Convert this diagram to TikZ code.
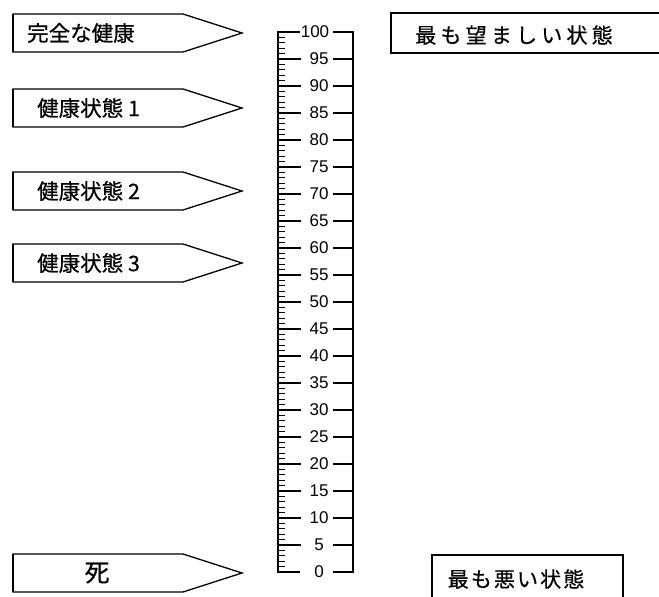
\documentclass[tikz,border=0pt]{standalone}
\usepackage{fontspec}
\newfontfamily\jp[FakeBold=0.6]{Noto Sans CJK JP}
\newfontfamily\jpwide[LetterSpace=20,FakeBold=0.6]{Noto Sans CJK JP}
\newfontfamily\jpmid[LetterSpace=10,FakeBold=0.6]{Noto Sans CJK JP}
\newfontfamily\numfont{Liberation Sans}
\begin{document}
\begin{tikzpicture}[x=1pt,y=-1pt,
  box/.style={draw, line width=1.3pt, line join=miter},
  heavyedge/.style={line width=2.6pt},
  scaleline/.style={line width=1.4pt},
  minortick/.style={line width=0.9pt},
  lab/.style={font=\numfont\fontsize{17}{17}\selectfont, inner sep=0pt},
  jtxtA/.style={font=\jp\fontsize{21.5}{21.5}\selectfont, inner sep=0pt, anchor=west},
  jtxtB/.style={font=\jp\fontsize{21.5}{21.5}\selectfont, inner sep=0pt, anchor=west},
  rtxt/.style={inner sep=0pt}]
\useasboundingbox (0,0) rectangle (659,597);

% arrow boxes
\foreach \c in {33,108,191,263,573} {
  \draw[box] (13,\c-19) -- (183,\c-19) -- (242,\c) -- (183,\c+19) -- (13,\c+19) -- cycle;
  \draw[heavyedge] (13,\c-19) -- (13,\c+19);
}
\node[jtxtA] (s0) at (27,33) {完全な健康};
\node[jtxtB] (s1) at (37,108) {健康状態 1};
\node[jtxtB] (s2) at (37,191) {健康状態 2};
\node[jtxtB] (s3) at (37,263) {健康状態 3};
\node[font=\jp\fontsize{25}{25}\selectfont, inner sep=0pt] (death) at (97,573) {死};

% scale
\draw[scaleline] (300,32) -- (278,32) -- (278,572) -- (300,572);
\draw[scaleline] (333,32) -- (353,32) -- (353,572) -- (333,572);
\foreach \i in {1,...,99} {
  \draw[minortick] (278,572-5.4*\i) -- (285,572-5.4*\i);
}
\foreach \i in {1,...,19} {
  \draw[scaleline] (278,572-27*\i) -- (301,572-27*\i);
  \draw[scaleline] (333,572-27*\i) -- (353,572-27*\i);
}
\foreach \i in {0,...,19} {
  \pgfmathtruncatemacro{\v}{5*\i}
  \node[lab] (n\i) at (319,572-27*\i) {\v};
}
\node[lab] (n20) at (315,32) {100};

% right boxes
\draw[box] (665,13) -- (391,13) -- (391,53) -- (665,53);
\draw[heavyedge] (391,13) -- (391,53);
\node[rtxt, font=\jpwide\fontsize{21}{21}\selectfont] (best) at (514,35) {最も望ましい状態};

\draw[box] (432,600) -- (432,555) -- (623,555) -- (623,600);
\draw[heavyedge] (623,555) -- (623,600);
\node[rtxt, font=\jpmid\fontsize{21}{21}\selectfont] (worst) at (516,579) {最も悪い状態};
\end{tikzpicture}
\end{document}
